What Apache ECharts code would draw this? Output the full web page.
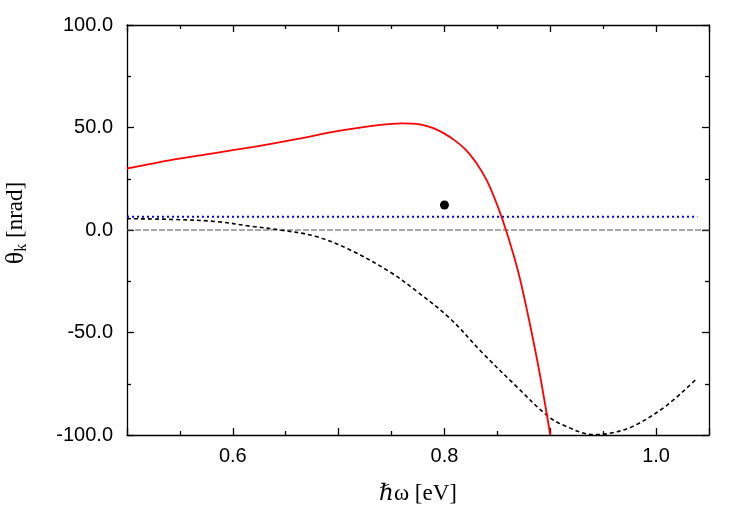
<!DOCTYPE html>
<html>
<head>
<meta charset="utf-8">
<script src="https://cdn.jsdelivr.net/npm/echarts@6/dist/echarts.min.js"></script>
<style>
  html, body { margin: 0; padding: 0; background: #fff; }
  #chart { width: 747px; height: 523px; }
</style>
</head>
<body>
<div id="chart"></div>
<script>
// photon energy (eV) and Kerr rotation (nrad)
var redCurve = [
  [0.50, 30.0], [0.54, 34.0], [0.58, 37.3], [0.62, 40.6], [0.66, 44.3],
  [0.70, 48.3], [0.73, 50.7], [0.75, 51.8], [0.76, 52.0], [0.77, 51.9],
  [0.78, 51.2], [0.79, 49.6], [0.80, 47.0], [0.81, 43.6], [0.82, 39.2],
  [0.83, 32.8], [0.84, 24.2], [0.85, 12.0], [0.86, -3.0], [0.87, -21],
  [0.88, -44], [0.89, -70], [0.90, -100]
]
var blackCurve = [
  [0.50, 5.5], [0.54, 5.2], [0.585, 4.1], [0.616, 1.9], [0.645, 0],
  [0.679, -3.2], [0.71, -9.5], [0.748, -20.3], [0.774, -30], [0.805, -43],
  [0.836, -60], [0.868, -76.3], [0.898, -90.9], [0.915, -95.8], [0.94, -99.8],
  [0.956, -99.2], [0.978, -95.8], [1.009, -86], [1.039, -72.2]
]
var blueLine = [[0.50, 6.5], [1.039, 6.5]]
var zeroLine = [[0.50, 0], [1.05, 0]]
var dataPoint = [[0.80, 12.2]]
var xTickLabels = ['0.6', '0.8', '1.0']

var chart = echarts.init(document.getElementById('chart'))

var tickFont = { fontFamily: 'Liberation Sans, Arial, sans-serif', fontSize: 20, color: '#000' }
var lineStyle = { color: '#000', width: 1.3 }
var serif = 'Liberation Serif, DejaVu Serif, serif'

function frameX(pos, showLabel) {
  return {
    type: 'value', position: pos, min: 0.5, max: 1.05, interval: 0.1,
    axisLine: { show: true, onZero: false, lineStyle: lineStyle },
    axisTick: { show: true, inside: true, length: 7, lineStyle: lineStyle },
    minorTick: { show: true, splitNumber: 2, length: 4, lineStyle: lineStyle },
    splitLine: { show: false },
    axisLabel: showLabel ? Object.assign({
      show: true, margin: 11, showMaxLabel: false, showMinLabel: false,
      formatter: function (v) {
        var s = v.toFixed(1)
        return xTickLabels.indexOf(s) >= 0 ? s : ''
      }
    }, tickFont) : { show: false }
  }
}

function frameY(pos, showLabel) {
  return {
    type: 'value', position: pos, min: -100, max: 100, interval: 50,
    axisLine: { show: true, onZero: false, lineStyle: lineStyle },
    axisTick: { show: true, inside: true, length: 7, lineStyle: lineStyle },
    minorTick: { show: true, splitNumber: 2, length: 4, lineStyle: lineStyle },
    splitLine: { show: false },
    axisLabel: showLabel ? Object.assign({
      show: true, margin: 14,
      formatter: function (v) { return v.toFixed(1) }
    }, tickFont) : { show: false }
  }
}

var xMain = frameX('bottom', true)
xMain.name = 'ℏω [eV]'
xMain.nameLocation = 'middle'
xMain.nameGap = 47
xMain.nameTextStyle = { fontFamily: serif, fontSize: 23, color: '#000' }

var yMain = frameY('left', true)
yMain.name = '{g|θ}{s|k}{t| [nrad]}'
yMain.nameLocation = 'middle'
yMain.nameGap = 97
yMain.nameTextStyle = {
  padding: [0, 0, 0, 14],
  rich: {
    g: { fontFamily: serif, fontSize: 26, color: '#000', lineHeight: 28 },
    t: { fontFamily: serif, fontSize: 23, color: '#000', lineHeight: 28 },
    s: { fontFamily: serif, fontSize: 16, color: '#000', verticalAlign: 'bottom', lineHeight: 28, padding: [9, 0, 0, 0] }
  }
}

chart.setOption({
  backgroundColor: '#fff',
  animation: false,
  grid: { left: 127, right: 38, top: 25, bottom: 88, outerBoundsMode: 'none', containLabel: false },
  xAxis: [xMain, frameX('top', false)],
  yAxis: [yMain, frameY('right', false)],
  series: [
    {
      type: 'line', data: zeroLine, symbol: 'none',
      lineStyle: { color: '#555', width: 1, type: [6, 2] }
    },
    {
      type: 'line', data: blueLine, symbol: 'none',
      lineStyle: { color: '#0000ff', width: 2, type: [2, 3] }
    },
    {
      type: 'line', data: blackCurve, symbol: 'none', smooth: 0.35,
      lineStyle: { color: '#000', width: 1.6, type: [4, 3] }
    },
    {
      type: 'line', data: redCurve, symbol: 'none', smooth: 0.3,
      lineStyle: { color: '#ff0000', width: 1.8 }
    },
    {
      type: 'scatter', data: dataPoint, symbol: 'circle', symbolSize: 9,
      itemStyle: { color: '#000', opacity: 1 }
    }
  ]
})
</script>
</body>
</html>
